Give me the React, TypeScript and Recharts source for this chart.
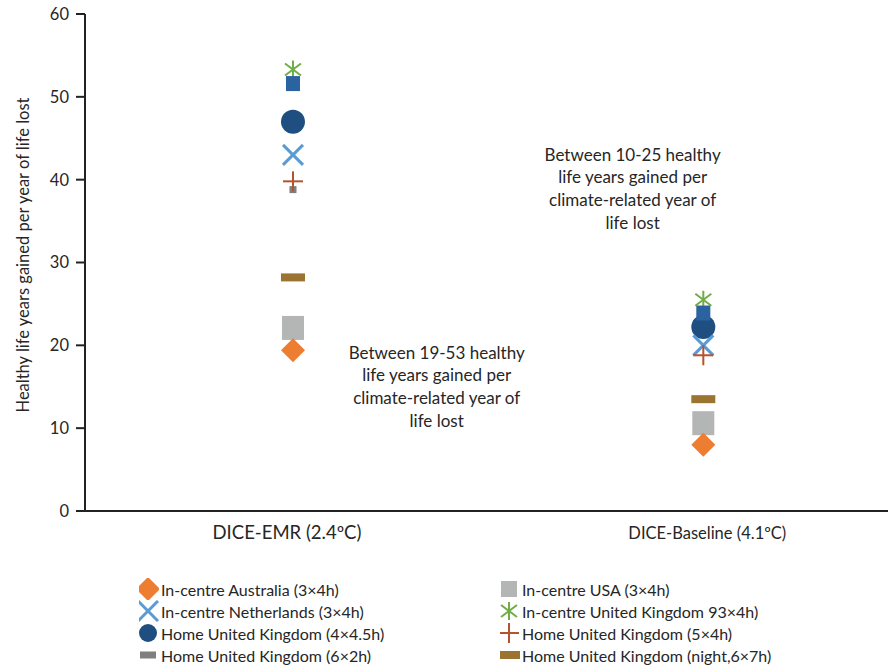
import { ScatterChart, Scatter, XAxis, YAxis, ReferenceDot } from 'recharts';

const FONT = 'Lato, "Open Sans", sans-serif';
const TEXT = '#262626';

// x positions of the two scenarios on a 0-100 axis
const scenarioX = [25.9, 77.0];
const scenarioLabels = ['DICE-EMR (2.4ºC)', 'DICE-Baseline (4.1ºC)'];
const scenarioLabelSize = [18.5, 16.5];
const scenarioLabelShift = [-6, 4];

const yTicks = [0, 10, 20, 30, 40, 50, 60];

// values per series: [DICE-EMR, DICE-Baseline]
const usaIncentre = [22.1, 10.6];
const australiaIncentre = [19.4, 8.0];
const ukHome445 = [47.0, 22.2];
const netherlandsIncentre = [43.0, 20.0];
const ukHome54 = [39.8, 18.8];
const ukHome62 = [38.8, 22.0];
const ukHomeNight = [28.2, 13.5];
const ukIncentre = [53.3, 25.5];
const unlabelled = [51.6, 23.9];

const annotations = [
  { x: 43.8, y: 15.0, lines: ['Between 19-53 healthy', 'life years gained per', 'climate-related year of', 'life lost'] },
  { x: 68.2, y: 38.9, lines: ['Between 10-25 healthy', 'life years gained per', 'climate-related year of', 'life lost'] },
];

type Kind = 'diamond' | 'cross' | 'circle' | 'smallSquare' | 'bigSquare' | 'star' | 'plus' | 'dash' | 'blueSquare';

// listed in drawing order
const series: { name: string; kind: Kind; color: string; values: number[] }[] = [
  { name: 'In-centre USA (3×4h)', kind: 'bigSquare', color: '#b4b5b5', values: usaIncentre },
  { name: 'In-centre Australia (3×4h)', kind: 'diamond', color: '#ed7d31', values: australiaIncentre },
  { name: 'Home United Kingdom (6×2h)', kind: 'smallSquare', color: '#7f7f7f', values: ukHome62 },
  { name: 'Home United Kingdom (4×4.5h)', kind: 'circle', color: '#1f4e80', values: ukHome445 },
  { name: 'In-centre Netherlands (3×4h)', kind: 'cross', color: '#5b9bd5', values: netherlandsIncentre },
  { name: 'Home United Kingdom (5×4h)', kind: 'plus', color: '#b5532f', values: ukHome54 },
  { name: 'Home United Kingdom (night,6×7h)', kind: 'dash', color: '#9a7430', values: ukHomeNight },
  { name: 'In-centre United Kingdom 93×4h)', kind: 'star', color: '#70ad47', values: ukIncentre },
  { name: 'unlabelled', kind: 'blueSquare', color: '#2a63a0', values: unlabelled },
];

const legendCol1 = ['In-centre Australia (3×4h)', 'In-centre Netherlands (3×4h)', 'Home United Kingdom (4×4.5h)', 'Home United Kingdom (6×2h)'];
const legendCol2 = ['In-centre USA (3×4h)', 'In-centre United Kingdom 93×4h)', 'Home United Kingdom (5×4h)', 'Home United Kingdom (night,6×7h)'];

function marker(kind: Kind, color: string, cx: number, cy: number, legend = false) {
  switch (kind) {
    case 'diamond':
      return <polygon points={`${cx},${cy - 12} ${cx + 12},${cy} ${cx},${cy + 12} ${cx - 12},${cy}`} fill={color} />;
    case 'cross':
      return (
        <g stroke={color} strokeWidth={3}>
          <line x1={cx - 10} y1={cy - 10} x2={cx + 10} y2={cy + 10} />
          <line x1={cx - 10} y1={cy + 10} x2={cx + 10} y2={cy - 10} />
        </g>
      );
    case 'circle':
      return <circle cx={cx} cy={cy} r={legend ? 9 : 12} fill={color} />;
    case 'smallSquare':
      return legend
        ? <rect x={cx - 8} y={cy - 3.5} width={16} height={7} fill={color} />
        : <rect x={cx - 3.5} y={cy - 3.5} width={7} height={7} fill={color} />;
    case 'bigSquare':
      return legend
        ? <rect x={cx - 8} y={cy - 8} width={16} height={16} fill={color} />
        : <rect x={cx - 11} y={cy - 12} width={22} height={24} fill={color} />;
    case 'star':
      return (
        <g stroke={color} strokeWidth={2}>
          <line x1={cx} y1={cy - 9} x2={cx} y2={cy + 9} />
          <line x1={cx - 8} y1={cy - 6} x2={cx + 8} y2={cy + 6} />
          <line x1={cx - 8} y1={cy + 6} x2={cx + 8} y2={cy - 6} />
        </g>
      );
    case 'plus':
      return (
        <g stroke={color} strokeWidth={2}>
          <line x1={cx - 10} y1={cy} x2={cx + 10} y2={cy} />
          <line x1={cx} y1={cy - 10} x2={cx} y2={cy + 10} />
        </g>
      );
    case 'dash':
      return <rect x={cx - 12} y={cy - 4} width={24} height={8} fill={color} />;
    case 'blueSquare':
      return <rect x={cx - 7} y={cy - 7.5} width={14} height={15} fill={color} />;
  }
}

function XTick(props: any) {
  const { x, y, payload } = props;
  const i = scenarioX.indexOf(payload.value);
  return (
    <text
      x={x + scenarioLabelShift[i]}
      y={y + 20}
      textAnchor="middle"
      fontSize={scenarioLabelSize[i]}
      fontFamily={FONT}
      fill={TEXT}
    >
      {scenarioLabels[i]}
    </text>
  );
}

function AnnotationLabel(lines: string[]) {
  return (props: any) => {
    const vb = props.viewBox;
    const cx = vb.x + (vb.width || 0) / 2;
    const cy = vb.y + (vb.height || 0) / 2;
    return (
      <text x={cx} y={cy} textAnchor="middle" fontSize={17} fontFamily={FONT} fill={TEXT}>
        {lines.map((l, i) => (
          <tspan key={i} x={cx} dy={i === 0 ? -28 : 22.7}>{l}</tspan>
        ))}
      </text>
    );
  };
}

export default function App() {
  const byName = (n: string) => series.find((s) => s.name === n)!;
  const legendRow = (n: string) => {
    const s = byName(n);
    return (
      <div key={n} style={{ display: 'flex', alignItems: 'center', height: 22 }}>
        <svg width={20} height={22} style={{ marginRight: 2 }}>
          {marker(s.kind, s.color, 9, 11, true)}
        </svg>
        <span>{n}</span>
      </div>
    );
  };

  return (
    <div style={{ position: 'absolute', left: 0, top: 0, width: 888, height: 666, background: '#fff' }}>
      <ScatterChart width={888} height={666} margin={{ top: 14, right: 0, bottom: 0, left: 0 }}>
        <XAxis
          type="number"
          dataKey="x"
          domain={[0, 100]}
          ticks={scenarioX}
          tick={<XTick />}
          tickLine={false}
          axisLine={{ stroke: '#222', strokeWidth: 2 }}
          height={155}
        />
        <YAxis
          type="number"
          dataKey="y"
          domain={[0, 60]}
          ticks={yTicks}
          width={85}
          tickSize={9}
          tickMargin={7}
          axisLine={{ stroke: '#222', strokeWidth: 2 }}
          tickLine={{ stroke: '#222', strokeWidth: 2 }}
          tick={{ fontSize: 16.5, fontFamily: FONT, fill: TEXT }}
          label={{
            content: () => (
              <text
                x={25}
                y={255}
                transform="rotate(-90 25 255)"
                textAnchor="middle"
                dominantBaseline="middle"
                fontSize={16.5}
                fontFamily={FONT}
                fill={TEXT}
              >
                Healthy life years gained per year of life lost
              </text>
            ),
          }}
        />
        {series.map((s) => (
          <Scatter
            key={s.name}
            name={s.name}
            data={s.values.map((v, i) => ({ x: scenarioX[i], y: v }))}
            isAnimationActive={false}
            shape={(p: any) => marker(s.kind, s.color, p.cx, p.cy)}
          />
        ))}
        {annotations.map((a, i) => (
          <ReferenceDot key={i} x={a.x} y={a.y} r={0} fill="none" stroke="none" label={{ content: AnnotationLabel(a.lines) }} />
        ))}
      </ScatterChart>
      <div
        style={{
          position: 'absolute',
          top: 578,
          left: 139,
          display: 'flex',
          fontFamily: FONT,
          fontSize: 16,
          color: TEXT,
        }}
      >
        <div style={{ width: 361 }}>{legendCol1.map(legendRow)}</div>
        <div>{legendCol2.map(legendRow)}</div>
      </div>
    </div>
  );
}
